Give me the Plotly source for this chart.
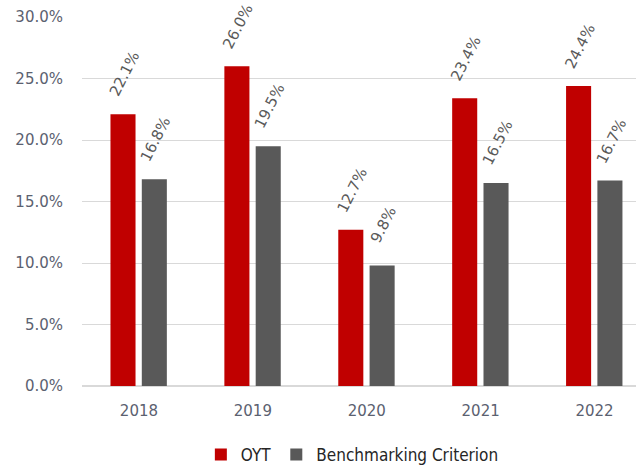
import plotly.graph_objects as go

years = ["2018", "2019", "2020", "2021", "2022"]
oyt = [0.221, 0.260, 0.127, 0.234, 0.244]
bench = [0.168, 0.195, 0.098, 0.165, 0.167]
y_ticks = [0, 0.05, 0.10, 0.15, 0.20, 0.25, 0.30]

tick_font = dict(family="DejaVu Sans, Verdana, sans-serif", size=15, color="#5b6170")
label_font = dict(family="DejaVu Sans, Verdana, sans-serif", size=15, color="#595959")

BAR_W = 0.22
OFF_RED = -0.25
OFF_GRAY = 0.025

fig = go.Figure()
fig.add_trace(go.Bar(
    x=years, y=oyt, name="OYT", marker=dict(color="#C00000", line=dict(width=0)),
    width=BAR_W, offset=OFF_RED,
))
fig.add_trace(go.Bar(
    x=years, y=bench, name="Benchmarking Criterion", marker=dict(color="#595959", line=dict(width=0)),
    width=BAR_W, offset=OFF_GRAY,
))

x_range = [-0.5, 4.364]

annotations = []
for series, off in ((oyt, OFF_RED), (bench, OFF_GRAY)):
    for i, v in enumerate(series):
        annotations.append(dict(
            x=i + off + BAR_W / 2, y=v, xref="x", yref="y", text=f"{v*100:.1f}%",
            showarrow=False, textangle=-63, font=label_font,
            xanchor="center", yanchor="middle",
            xshift=1.5, yshift=40,
        ))

fig.update_layout(
    width=636, height=468,
    margin=dict(l=82, r=0, t=17, b=82, autoexpand=False),
    plot_bgcolor="white", paper_bgcolor="white",
    barmode="overlay",
    annotations=annotations,
    legend=dict(orientation="h", x=0.488, xanchor="center", y=-0.187, yanchor="middle",
                font=dict(family="DejaVu Sans Condensed, Liberation Sans Narrow, sans-serif", size=17, color="#262626"),
                itemwidth=30, traceorder="normal"),
    xaxis=dict(type="category", range=x_range, showgrid=False, automargin=False,
               tickfont=tick_font, ticks="", showline=False, ticklabelstandoff=14),
    yaxis=dict(range=[0, 0.30], tickvals=y_ticks, tickformat=".1%", automargin=False,
               gridcolor="#D9D9D9", gridwidth=1, zeroline=True, zerolinecolor="#D9D9D9",
               zerolinewidth=1.5, ticks="", ticklabelstandoff=18,
               tickfont=tick_font),
)

fig.write_html("out.html", config={"displayModeBar": False},
               post_script="document.body.style.margin='0';document.body.style.padding='0';")
